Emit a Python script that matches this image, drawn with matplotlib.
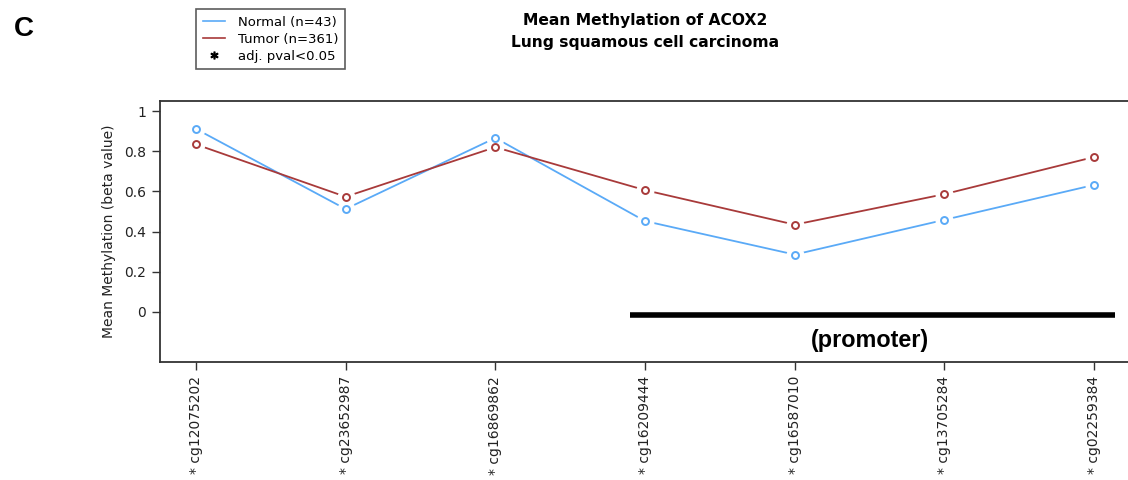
import numpy as np
import matplotlib.pyplot as plt
from matplotlib.lines import Line2D
from matplotlib import font_manager as fm

probes = ['cg12075202', 'cg23652987', 'cg16869862', 'cg16209444',
          'cg16587010', 'cg13705284', 'cg02259384']
signif = [True, True, True, True, True, True, True]
normal = [0.911, 0.512, 0.866, 0.452, 0.285, 0.458, 0.632]
tumor = [0.834, 0.573, 0.820, 0.606, 0.434, 0.586, 0.771]
yticks = [0, 0.2, 0.4, 0.6, 0.8, 1]
ylabels = ['0', '0.2', '0.4', '0.6', '0.8', '1']
promoter = (3.9, 7.14)

c_norm = '#5aaaf7'
c_tum = '#a83a3a'

# Arial-like bold, avoiding the Narrow variant
bold_file = [f for f in fm.findSystemFonts() if f.endswith('LiberationSans-Bold.ttf')]
if bold_file:
    arial_b = fm.FontProperties(fname=bold_file[0])
else:
    arial_b = fm.FontProperties(family='DejaVu Sans', weight='bold')

plt.rcParams['font.family'] = 'DejaVu Sans'
fig = plt.figure(figsize=(11.28, 4.8), dpi=100)
ax = fig.add_axes([160 / 1128, 1 - 362 / 480, 970 / 1128, 261 / 480])

x = np.arange(1, len(probes) + 1)
# R type="b": lines with small gaps round the points
ax.plot(x, normal, color=c_norm, lw=1.3, zorder=2)
ax.plot(x, normal, 'o', ms=12, mfc='white', mec='white', zorder=3)
ax.plot(x, tumor, color=c_tum, lw=1.3, zorder=4)
ax.plot(x, tumor, 'o', ms=12, mfc='white', mec='white', zorder=5)
ax.plot(x, normal, 'o', ms=5, mfc='white', mec=c_norm, mew=1.4, zorder=6)
ax.plot(x, tumor, 'o', ms=5, mfc='white', mec=c_tum, mew=1.4, zorder=6)

ax.plot(promoter, [-0.015, -0.015], color='black', lw=4, solid_capstyle='butt')
ax.text(np.mean(promoter) - 0.02, -0.145, '(promoter)', ha='center', va='center',
        fontproperties=arial_b, fontsize=16.8)

ax.set_xlim(0.76, 7.24)
ax.set_ylim(-0.25, 1.05)
ax.set_yticks(yticks)
ax.set_yticklabels(ylabels)
ax.set_xticks(x)
ax.set_xticklabels([('* ' if s else '') + p for p, s in zip(probes, signif)],
                   rotation=90, va='top', ha='center')
ax.tick_params(direction='out', length=6, width=1, color='#333333',
               labelsize=10, labelcolor='#222222', pad=4)
for s in ax.spines.values():
    s.set_color('#333333')
    s.set_linewidth(1.3)
ax.set_ylabel('Mean Methylation (beta value)', fontsize=10, color='#222222', labelpad=6)

fig.text(645 / 1128, 1 - 21 / 480, 'Mean Methylation of ACOX2', ha='center', va='center',
         fontsize=11.2, fontweight='bold')
fig.text(645 / 1128, 1 - 42 / 480, 'Lung squamous cell carcinoma', ha='center', va='center',
         fontsize=11.2, fontweight='bold')
fig.text(24 / 1128, 1 - 29 / 480, 'C', ha='center', va='center',
         fontproperties=arial_b, fontsize=20)

handles = [Line2D([], [], color=c_norm, lw=1.2),
           Line2D([], [], color=c_tum, lw=1.2),
           Line2D([], [], ls='none', marker='$*$', color='black', ms=5)]
leg = fig.legend(handles, ['Normal (n=43)', 'Tumor (n=361)', 'adj. pval<0.05'],
                 loc='upper left', bbox_to_anchor=(196 / 1128, 1 - 9 / 480),
                 fontsize=9.5, frameon=True, fancybox=False, handlelength=1.7,
                 borderpad=0.5, labelspacing=0.3, handletextpad=1.0,
                 borderaxespad=0)
leg.get_frame().set_edgecolor('#333333')
leg.get_frame().set_linewidth(1.2)

fig.savefig('out.png', dpi=100)
